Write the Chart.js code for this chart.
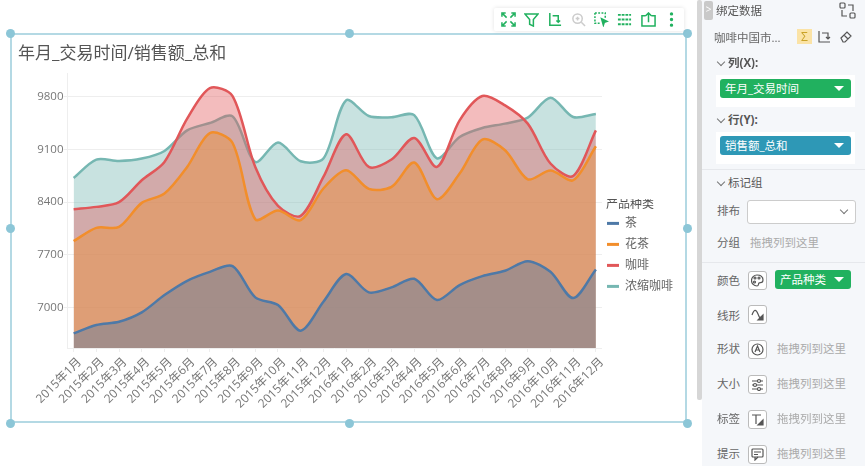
<!DOCTYPE html>
<html lang="zh">
<head>
<meta charset="utf-8">
<title>年月_交易时间/销售额_总和</title>
<script src="https://cdn.jsdelivr.net/npm/chart.js@4/dist/chart.umd.min.js"></script>
<style>
html,body{margin:0;padding:0;background:#fff;width:865px;height:466px;overflow:hidden;font-family:"Open Sans","Noto Sans CJK SC",sans-serif}
#myChart{position:absolute;left:12px;top:36px}
.frame{position:absolute;left:10px;top:33px;width:677px;height:390px;box-sizing:border-box;border:2px solid #b4d9e4}
.dot{position:absolute;width:9px;height:9px;border-radius:50%;background:#8cc6d7}
.toolbar{position:absolute;left:494px;top:8px;width:190px;height:23px;background:#fff;box-shadow:0 0 4px rgba(0,0,0,.12);border-radius:2px}
.toolbar svg{position:absolute;top:4px;width:15px;height:15px;fill:none;stroke:#21b15f;stroke-width:1.6}
.scroll{position:absolute;left:697px;top:0;width:5px;height:400px;background:#d6d6d6;border-radius:2px}
.panel{position:absolute;left:702px;top:0;width:163px;height:466px;background:#f5f7fa;color:#666;font-size:11.5px}
.panel div{position:absolute;white-space:nowrap;line-height:16px}
.panel svg{position:absolute;fill:none;stroke:#555;stroke-width:1.2}
.tab{left:2px;top:1px;width:9px;height:19px;background:#c9c9c9;border-radius:2px;color:#fff;font-size:10px;text-align:center}
.whitebox{background:#fff;left:14px;width:139px;height:32px}
.pill{color:#fff;border-radius:3px;height:19px;line-height:19px!important;padding-left:5px;box-sizing:border-box}
.pill i{position:absolute;right:7px;top:7px;width:0;height:0;border-left:5px solid transparent;border-right:5px solid transparent;border-top:5px solid #fff}
.green{background:#21b15f}
.blue{background:#2e98b6}
.rule{left:0;width:163px;height:1px;background:#e6e8ec}
.hint{color:#aaa}
.ibox{width:17px;height:17px;border:1px solid #bbb;border-radius:3px;background:#fff}
.ibox svg{left:2px;top:2px;width:13px;height:13px}
.sel{left:45px;top:200px;width:107px;height:22px;background:#fff;border:1px solid #ccc;border-radius:3px}
.chev{width:5px;height:5px;border-left:1px solid #777;border-bottom:1px solid #777;transform:rotate(-45deg)}
</style>
</head>
<body>
<div class="frame"></div>
<canvas id="myChart" width="675" height="385"></canvas>
<div id="dots"></div>
<div class="toolbar">
  <svg style="left:7px" viewBox="0 0 16 16"><path d="M1 5V1h4M11 1h4v4M15 11v4h-4M5 15H1v-4M2 2l4 4M14 2l-4 4M14 14l-4-4M2 14l4-4"/></svg>
  <svg style="left:30px" viewBox="0 0 16 16"><path d="M1 2h14L10 8v7l-4-2V8z"/></svg>
  <svg style="left:53px" viewBox="0 0 16 16"><path d="M3 1v13h12M6 4h6v7M10 9l2 2 2-2"/></svg>
  <svg style="left:77px;stroke:#ccc" viewBox="0 0 16 16"><circle cx="7" cy="7" r="5"/><path d="M11 11l4 4M5 7h4M7 5v4"/></svg>
  <svg style="left:100px" viewBox="0 0 16 16"><path d="M1 1h11v5M1 1v11h5" stroke-dasharray="2 1.5"/><path d="M8 7l6 3-3 1-1 3z" fill="#21b15f"/></svg>
  <svg style="left:123px" viewBox="0 0 16 16"><path d="M1 3h14M1 8h14M1 13h14" stroke-width="2" stroke-dasharray="3 1"/></svg>
  <svg style="left:147px" viewBox="0 0 16 16"><path d="M5 4H1v11h14V4h-4M8 11V1M5 4l3-3 3 3"/></svg>
  <svg style="left:170px" viewBox="0 0 16 16"><circle cx="8" cy="2" r="1" fill="#21b15f"/><circle cx="8" cy="8" r="1" fill="#21b15f"/><circle cx="8" cy="14" r="1" fill="#21b15f"/></svg>
</div>
<div class="scroll"></div>
<div class="panel">
  <div class="tab">&gt;</div>
  <div style="left:14px;top:3px;color:#555">绑定数据</div>
  <svg style="left:137px;top:2px;width:17px;height:17px" viewBox="0 0 17 17"><rect x="1" y="1" width="5" height="5" rx="1"/><rect x="11" y="11" width="5" height="5" rx="1"/><path d="M9 3h5v6M8 14H3V8"/></svg>
  <div style="left:12px;top:30px">咖啡中国市...</div>
  <div style="left:95px;top:29px;width:15px;height:15px;background:#fbe3a6;color:#c9a227;text-align:center;font-size:12px">Σ</div>
  <svg style="left:115px;top:30px;width:14px;height:14px" viewBox="0 0 14 14"><path d="M2 1v11h11M5 3h6v6M9 7l2 2 2-2"/></svg>
  <svg style="left:137px;top:30px;width:14px;height:14px" viewBox="0 0 14 14"><path d="M2 8l6-6 4 4-6 6H4zM5 5l4 4"/></svg>
  <div class="chev" style="left:16px;top:59px"></div>
  <div style="left:26px;top:55px;font-weight:bold;color:#555">列(X):</div>
  <div class="whitebox" style="top:75px"></div>
  <div class="pill green" style="left:18px;top:79px;width:131px">年月_交易时间<i></i></div>
  <div class="chev" style="left:16px;top:116px"></div>
  <div style="left:26px;top:112px;font-weight:bold;color:#555">行(Y):</div>
  <div class="whitebox" style="top:132px"></div>
  <div class="pill blue" style="left:18px;top:136px;width:131px">销售额_总和<i></i></div>
  <div class="rule" style="top:169px"></div>
  <div class="chev" style="left:16px;top:179px"></div>
  <div style="left:26px;top:175px;color:#555">标记组</div>
  <div style="left:15px;top:203px">排布</div>
  <div class="sel"></div>
  <div class="chev" style="left:139px;top:207px"></div>
  <div style="left:15px;top:235px">分组</div>
  <div class="hint" style="left:48px;top:235px">拖拽列到这里</div>
  <div class="rule" style="top:262px"></div>
  <div style="left:15px;top:273px">颜色</div>
  <div class="ibox" style="left:46px;top:271px"><svg viewBox="0 0 13 13"><path d="M6 1a5.5 5.5 0 1 0 0 11c2 0 1-2 2-3s4 1 4-3-3-5-6-5z"/><circle cx="4" cy="4" r="1"/><circle cx="8" cy="4" r="1"/><circle cx="3.5" cy="8" r="1"/></svg></div>
  <div class="pill green" style="left:73px;top:270px;width:76px">产品种类<i></i></div>
  <div style="left:15px;top:308px">线形</div>
  <div class="ibox" style="left:46px;top:305px"><svg viewBox="0 0 13 13"><path d="M1 7c2-6 4-6 6-1s2 4 3 3"/><path d="M12 12H7l5-5z" fill="#555"/></svg></div>
  <div style="left:15px;top:341px">形状</div>
  <div class="ibox" style="left:46px;top:340px"><svg viewBox="0 0 13 13"><circle cx="6.5" cy="6.5" r="5.5"/><path d="M4 9l2.5-6L9 9M5 7h3"/></svg></div>
  <div class="hint" style="left:75px;top:341px">拖拽列到这里</div>
  <div style="left:15px;top:376px">大小</div>
  <div class="ibox" style="left:46px;top:375px"><svg viewBox="0 0 13 13"><path d="M1 3h11M1 7h11M1 11h11"/><circle cx="8" cy="3" r="1.5" fill="#fff"/><circle cx="4" cy="7" r="1.5" fill="#fff"/><circle cx="8" cy="11" r="1.5" fill="#fff"/></svg></div>
  <div class="hint" style="left:75px;top:376px">拖拽列到这里</div>
  <div style="left:15px;top:411px">标签</div>
  <div class="ibox" style="left:46px;top:410px"><svg viewBox="0 0 13 13"><path d="M1 2h9M5 2v9"/><path d="M12 12H7l5-5z" fill="#555"/></svg></div>
  <div class="hint" style="left:75px;top:411px">拖拽列到这里</div>
  <div style="left:15px;top:446px">提示</div>
  <div class="ibox" style="left:46px;top:445px"><svg viewBox="0 0 13 13"><rect x="1" y="1" width="11" height="8" rx="1"/><path d="M3 4h7M3 6.5h4M4 9v3l3-3"/></svg></div>
  <div class="hint" style="left:75px;top:446px">拖拽列到这里</div>
</div>
<script>
const months = ['2015年1月','2015年2月','2015年3月','2015年4月','2015年5月','2015年6月','2015年7月','2015年8月','2015年9月','2015年10月','2015年11月','2015年12月',
                '2016年1月','2016年2月','2016年3月','2016年4月','2016年5月','2016年6月','2016年7月','2016年8月','2016年9月','2016年10月','2016年11月','2016年12月'];
const yTicks = [7000, 7700, 8400, 9100, 9800];

const cha = [6655,6766,6809,6934,7164,7354,7473,7549,7133,7031,6690,7075,7443,7200,7266,7380,7098,7297,7416,7487,7615,7473,7124,7505];
const huacha = [7881,8058,8071,8390,8514,8868,9319,9186,8173,8289,8160,8581,8824,8576,8602,8926,8439,8780,9232,9090,8704,8820,8691,9143];
const kafei = [8306,8337,8399,8691,8934,9510,9917,9811,8868,8350,8217,8735,9302,8868,8966,9253,8868,9488,9811,9687,9444,8913,8748,9355];
const nongsuo = [8722,8966,8947,8979,9080,9355,9452,9541,8934,9192,8943,8979,9754,9545,9528,9558,8983,9266,9386,9444,9524,9789,9532,9572];

// asas de seleccion del marco
[[10,33],[349,33],[687,33],[10,228],[687,228],[10,423],[349,423],[687,423]].forEach(p => {
    const d = document.createElement('div');
    d.className = 'dot';
    d.style.left = (p[0] - 4.5) + 'px';
    d.style.top = (p[1] - 4.5) + 'px';
    document.getElementById('dots').appendChild(d);
});

function serie(nombre, valores, color, relleno){
    return {
        label: nombre,
        data: valores.map((v, i) => ({x: i, y: v})),
        borderColor: color,
        backgroundColor: relleno,
        borderWidth: 2.5,
        fill: 'start',
        tension: 0.3,
        pointRadius: 0
    };
}

const fuente = '"Open Sans","Noto Sans CJK SC",sans-serif';

// la leyenda va mas abajo y pegada al grafico; width solo sirve para centrar el titulo
const moverLeyenda = {
    id: 'moverLeyenda',
    afterLayout(chart){
        chart.legend.top = 163;
        chart.legend.left -= 4;
        chart.legend.width = 64;
    }
};

window.grafica = new Chart(document.getElementById('myChart'), {
    type: 'line',
    plugins: [moverLeyenda],
    data: {
        datasets: [
            serie('茶', cha, '#4e79a7', 'rgba(78,121,167,0.4)'),
            serie('花茶', huacha, '#f28e2b', 'rgba(242,142,43,0.4)'),
            serie('咖啡', kafei, '#e15759', 'rgba(225,87,89,0.4)'),
            serie('浓缩咖啡', nongsuo, '#76b7b2', 'rgba(118,183,178,0.4)')
        ]
    },
    options: {
        responsive: false,
        animation: false,
        layout: {padding: {left: 6, right: 0, top: 0, bottom: 0}},
        scales: {
            x: {
                type: 'linear',
                min: -0.27,
                max: 23.27,
                afterBuildTicks: s => { s.ticks = months.map((m, i) => ({value: i})); },
                afterFit: s => { s.height = 73; },
                grid: {drawOnChartArea: false, color: '#eee', tickLength: 4},
                border: {color: '#eee'},
                ticks: {
                    autoSkip: false,
                    minRotation: 45,
                    maxRotation: 45,
                    padding: 3,
                    labelOffset: 6,
                    color: '#777',
                    font: {family: fuente, size: 12},
                    callback: v => months[v]
                }
            },
            y: {
                min: 6460,
                max: 10112,
                afterBuildTicks: s => { s.ticks = yTicks.map(v => ({value: v})); },
                afterFit: s => { s.width = 49.5; },
                grid: {color: '#eee', tickLength: 4},
                border: {color: '#eee'},
                ticks: {
                    padding: 0,
                    color: '#777',
                    font: {family: fuente, size: 11.5},
                    callback: v => String(v)
                }
            }
        },
        plugins: {
            tooltip: {enabled: false},
            title: {
                display: true,
                text: '年月_交易时间/销售额_总和',
                align: 'start',
                color: '#555',
                font: {family: fuente, size: 17, weight: 'normal'},
                padding: {top: 8, bottom: 9}
            },
            legend: {
                position: 'right',
                align: 'start',
                title: {
                    display: true,
                    text: '产品种类',
                    position: 'center',
                    color: '#555',
                    font: {family: fuente, size: 12},
                    padding: {top: 0, bottom: -5}
                },
                labels: {
                    boxWidth: 12,
                    boxHeight: 3,
                    padding: 9,
                    color: '#666',
                    font: {family: fuente, size: 12},
                    generateLabels: chart => Chart.defaults.plugins.legend.labels.generateLabels(chart).map(it => {
                        it.fillStyle = it.strokeStyle;
                        it.lineWidth = 0;
                        return it;
                    })
                }
            }
        }
    }
});
</script>
</body>
</html>
